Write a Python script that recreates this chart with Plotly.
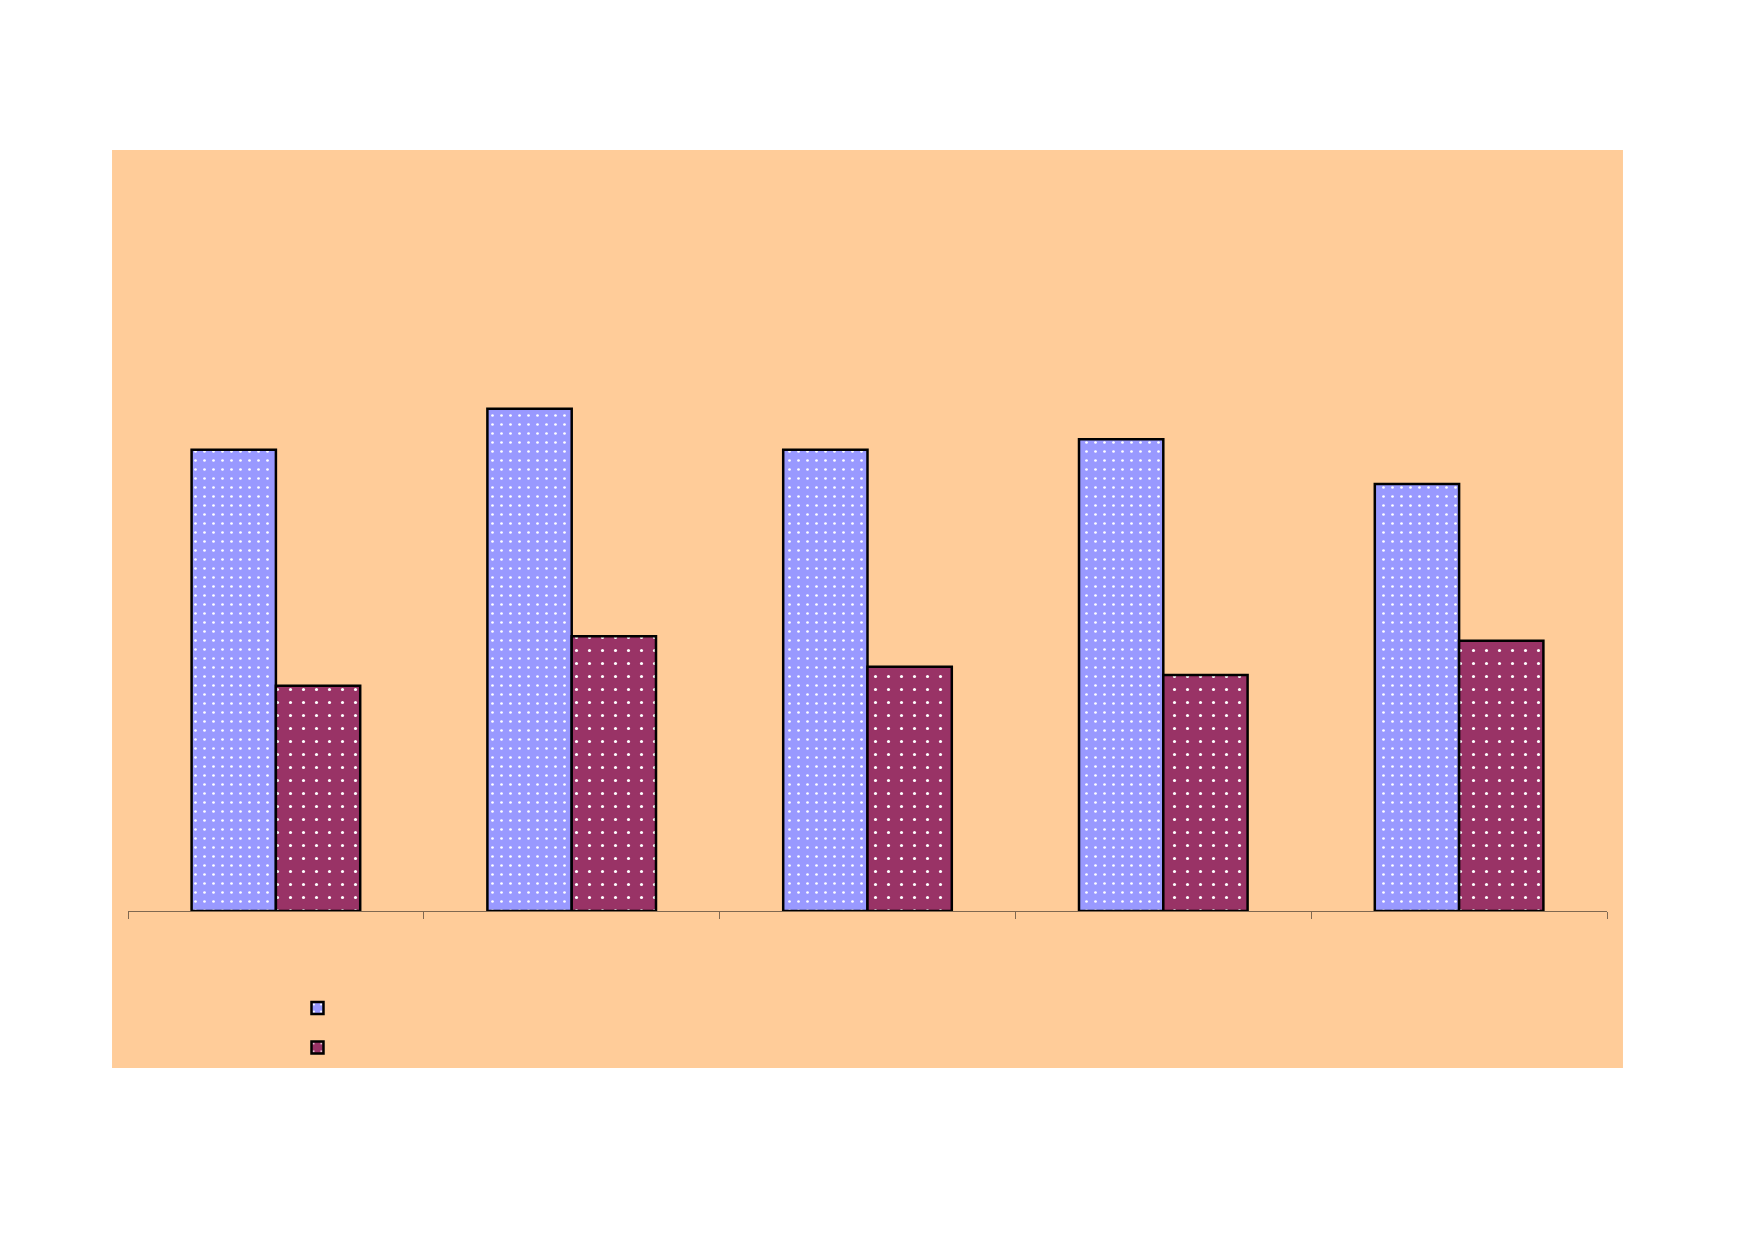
import plotly.graph_objects as go

# five groups, two series, no visible labels in the source picture
categories = ["A", "B", "C", "D", "E"]
series_1 = [60.6, 66.0, 60.6, 62.0, 56.1]
series_2 = [29.6, 36.1, 32.1, 31.0, 35.5]

BLUE = "#9999FF"
PLUM = "#993366"
PEACH = "#FFCC99"

fig = go.Figure()
fig.add_trace(go.Bar(
    x=categories, y=series_1, name="",
    marker=dict(color=BLUE, line=dict(color="black", width=2.5),
                pattern=dict(shape=".", fgcolor="white", bgcolor=BLUE,
                             size=9, solidity=0.07, fillmode="replace")),
))
fig.add_trace(go.Bar(
    x=categories, y=series_2, name="",
    marker=dict(color=PLUM, line=dict(color="black", width=2.5),
                pattern=dict(shape=".", fgcolor="white", bgcolor=PLUM,
                             size=13, solidity=0.045, fillmode="replace")),
))

# the page adds an 8px body margin, so margins are pulled in by 8
fig.update_layout(
    width=1752, height=1239,
    margin=dict(l=120, r=153, t=142, b=336),
    paper_bgcolor="white",
    plot_bgcolor="rgba(0,0,0,0)",
    barmode="group", bargap=0.43, bargroupgap=0,
    showlegend=True,
    legend=dict(x=0.1146, y=-0.095, xanchor="left", yanchor="top",
                bgcolor="rgba(0,0,0,0)", font=dict(size=28), tracegroupgap=0),
    shapes=[dict(type="rect", xref="paper", yref="paper",
                 x0=-0.0108, x1=1.0108, y0=-0.2063, y1=1.0,
                 fillcolor=PEACH, line=dict(width=0), layer="below")],
)
fig.update_xaxes(showline=True, linecolor="#806850", linewidth=1,
                 ticks="outside", tickson="boundaries", ticklen=7,
                 tickcolor="#806850", showticklabels=False, showgrid=False)
fig.update_yaxes(range=[0, 100], visible=False, showgrid=False)

fig.write_html("out.html")
